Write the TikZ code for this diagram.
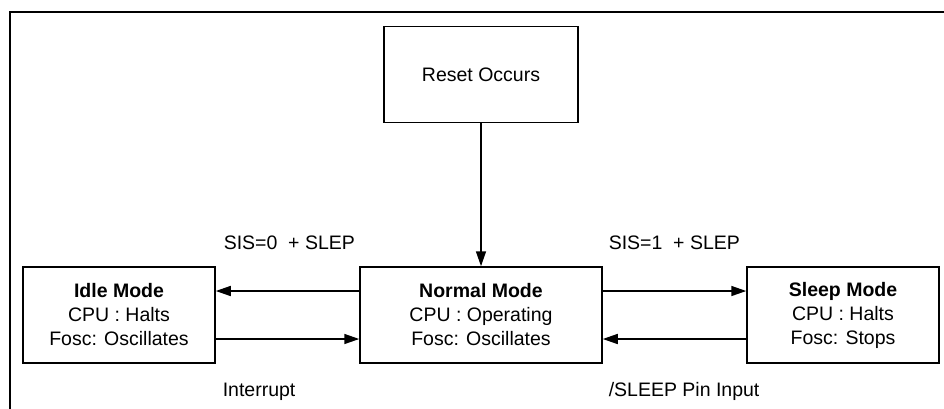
\documentclass[tikz,border=0pt]{standalone}
\usepackage{fontspec}
\setmainfont{Liberation Sans}
\usetikzlibrary{arrows.meta}
\begin{document}
\begin{tikzpicture}
  [x=1pt,y=-1pt,line width=1.5pt,>={Triangle[length=15pt,width=10pt]},
   every node/.style={font=\fontsize{19.5}{24}\selectfont}]
  \tikzstyle{mode} = [draw,shape=rectangle,align=center,minimum height=96pt,inner sep=0pt]
  \tikzstyle{lbl} = [anchor=base west,inner sep=0pt]
  \clip (0,0) rectangle (944,408);
  \draw (10,420) -- (10,12) -- (960,12);

  \node[mode,minimum width=194pt] (reset)  at (481,74.5) {Reset Occurs};
  \node[mode,minimum width=192pt] (idle)   at (119,315) {\textbf{Idle Mode}\\CPU : Halts\\Fosc: Oscillates};
  \node[mode,minimum width=242pt] (normal) at (481,315) {\textbf{Normal Mode}\\CPU : Operating\\Fosc: Oscillates};
  \node[mode,minimum width=192pt] (sleep)  at (843,315) {\textbf{Sleep Mode}\\CPU : Halts\\Fosc: Stops};

  \node[lbl] (sis0)  at (223,249) {SIS=0\ \ + SLEP};
  \node[lbl] (intr)  at (222,396) {Interrupt};
  \node[lbl] (sis1)  at (608,249) {SIS=1\ \ + SLEP};
  \node[lbl] (pin)   at (608,396) {/SLEEP Pin Input};

  \draw[->] (reset) -- (normal);
\foreach \source/\from/\dest/\to/\s in {normal/west/idle/east/24,idle/east/normal/west/-24,
    normal/east/sleep/west/24,sleep/west/normal/east/-24}
   \draw[->] ([yshift=\s pt]\source.\from) -- ([yshift=\s pt]\dest.\to);
\end{tikzpicture}
\end{document}
